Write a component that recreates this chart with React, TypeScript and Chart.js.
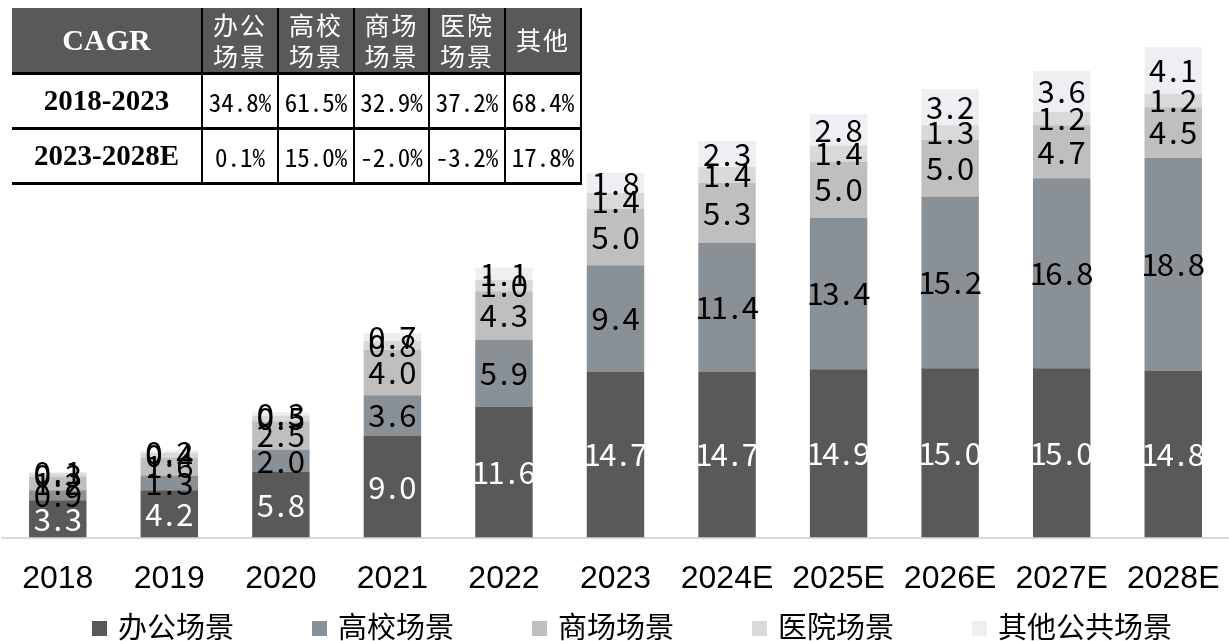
import React, { useEffect, useRef } from 'react';
import { Chart, registerables } from 'chart.js';

Chart.register(...registerables);

// ---- Data ----
const years = ['2018', '2019', '2020', '2021', '2022', '2023', '2024E', '2025E', '2026E', '2027E', '2028E'];
const officeValues = [3.3, 4.2, 5.8, 9.0, 11.6, 14.7, 14.7, 14.9, 15.0, 15.0, 14.8];
const campusValues = [0.9, 1.3, 2.0, 3.6, 5.9, 9.4, 11.4, 13.4, 15.2, 16.8, 18.8];
const mallValues = [1.2, 1.6, 2.5, 4.0, 4.3, 5.0, 5.3, 5.0, 5.0, 4.7, 4.5];
const hospitalValues = [0.3, 0.4, 0.5, 0.8, 1.0, 1.4, 1.4, 1.4, 1.3, 1.2, 1.2];
const otherValues = [0.1, 0.2, 0.3, 0.7, 1.1, 1.8, 2.3, 2.8, 3.2, 3.6, 4.1];
const seriesNames = ['办公场景', '高校场景', '商场场景', '医院场景', '其他公共场景'];
const seriesColors = ['#595959', '#899096', '#bfbfbf', '#d9d9d9', '#eeeff2'];

const cagrTitle = 'CAGR';
const cagrColumns = [['办公', '场景'], ['高校', '场景'], ['商场', '场景'], ['医院', '场景'], ['其他']];
const cagrPeriods = ['2018-2023', '2023-2028E'];
const cagr2018to2023 = ['34.8%', '61.5%', '32.9%', '37.2%', '68.4%'];
const cagr2023to2028 = ['0.1%', '15.0%', '-2.0%', '-3.2%', '17.8%'];

const LABEL_FONT = '"Noto Sans CJK SC", "Noto Sans", sans-serif';

function drawCellText(ctx: CanvasRenderingContext2D, text: string, cx: number, cy: number, cell: number) {
  const chars = Array.from(text);
  let x = cx - (chars.length * cell) / 2 + cell / 2;
  for (const ch of chars) {
    ctx.fillText(ch, x, cy);
    x += cell;
  }
}

const valueLabelPlugin = {
  id: 'valueLabels',
  afterDatasetsDraw(chart: any) {
    const ctx = chart.ctx as CanvasRenderingContext2D;
    ctx.save();
    ctx.font = `31px ${LABEL_FONT}`;
    ctx.textAlign = 'center';
    ctx.textBaseline = 'middle';
    chart.data.datasets.forEach((ds: any, i: number) => {
      const meta = chart.getDatasetMeta(i);
      meta.data.forEach((el: any, j: number) => {
        const v = ds.data[j] as number;
        const cy = (el.y + el.base) / 2;
        ctx.fillStyle = i === 0 ? '#ffffff' : '#000000';
        drawCellText(ctx, v.toFixed(1), el.x, cy, 15.5);
      });
    });
    ctx.restore();
  },
};

const legendPlugin = {
  id: 'customLegend',
  afterDraw(chart: any) {
    const ctx = chart.ctx as CanvasRenderingContext2D;
    ctx.save();
    ctx.font = `29px ${LABEL_FONT}`;
    ctx.textAlign = 'left';
    ctx.textBaseline = 'middle';
    let x = 92;
    const y = chart.height - 14;
    chart.data.datasets.forEach((ds: any) => {
      ctx.fillStyle = ds.backgroundColor;
      ctx.fillRect(x, y - 6, 15, 15);
      ctx.fillStyle = '#000';
      ctx.fillText(ds.label, x + 26, y);
      const w = ctx.measureText(ds.label).width;
      x += 26 + w + 78;
    });
    ctx.restore();
  },
};

export default function App() {
  const ref = useRef<HTMLCanvasElement>(null);

  useEffect(() => {
    const allValues = [officeValues, campusValues, mallValues, hospitalValues, otherValues];
    const chart = new Chart(ref.current as HTMLCanvasElement, {
      type: 'bar',
      data: {
        labels: years,
        datasets: allValues.map((vals, i) => ({
          label: seriesNames[i],
          data: vals,
          backgroundColor: seriesColors[i],
          borderWidth: 0,
          barPercentage: 0.515,
          categoryPercentage: 1,
        })),
      },
      options: {
        responsive: false,
        animation: false,
        layout: { padding: { left: 2, right: -11, top: 1, bottom: 43 } },
        plugins: {
          legend: { display: false },
          tooltip: { enabled: false },
        },
        scales: {
          x: {
            stacked: true,
            grid: { display: false, drawTicks: true, tickLength: 22 },
            border: { display: true, color: '#d9d9d9', width: 2 },
            ticks: {
              padding: 0,
              color: '#000',
              autoSkip: false,
              maxRotation: 0,
              font: { family: '"Liberation Sans", Arial, sans-serif', size: 32 },
            },
          },
          y: { stacked: true, display: false, min: 0, max: 47.5 },
        },
      },
      plugins: [valueLabelPlugin, legendPlugin],
    });
    return () => chart.destroy();
  }, []);

  const thBase: React.CSSProperties = {
    background: '#595959',
    color: '#fff',
    padding: 0,
    textAlign: 'center',
    borderLeft: '2px solid #000',
    fontWeight: 'normal',
  };
  const tdBase: React.CSSProperties = {
    padding: 0,
    textAlign: 'center',
    borderLeft: '2px solid #000',
    fontFamily: '"Noto Sans Mono CJK SC", "DejaVu Sans Mono", monospace',
    fontSize: 25,
    color: '#000',
  };
  const periodStyle: React.CSSProperties = {
    padding: 0,
    textAlign: 'center',
    fontFamily: '"Liberation Serif", "Times New Roman", serif',
    fontWeight: 'bold',
    fontSize: 29,
    color: '#000',
  };
  const rows = [cagr2018to2023, cagr2023to2028];

  return (
    <div style={{ position: 'fixed', left: 0, top: 0, width: 1229, height: 641, background: '#fff' }}>
      <canvas ref={ref} width={1229} height={641} style={{ display: 'block', width: 1229, height: 641 }} />
      <table
        style={{
          position: 'absolute',
          left: 12,
          top: 8,
          width: 569,
          borderCollapse: 'collapse',
          tableLayout: 'fixed',
          background: '#fff',
        }}
      >
        <colgroup>
          <col style={{ width: 190 }} />
          <col style={{ width: 76 }} />
          <col style={{ width: 76 }} />
          <col style={{ width: 75 }} />
          <col style={{ width: 76 }} />
          <col style={{ width: 76 }} />
        </colgroup>
        <tbody>
          <tr style={{ height: 65, borderBottom: '3px solid #000' }}>
            <th
              style={{
                ...thBase,
                borderLeft: 'none',
                fontFamily: '"Liberation Serif", "Times New Roman", serif',
                fontWeight: 'bold',
                fontSize: 30,
              }}
            >
              {cagrTitle}
            </th>
            {cagrColumns.map((lines, i) => (
              <th
                key={i}
                style={{
                  ...thBase,
                  borderRight: i === cagrColumns.length - 1 ? '2px solid #000' : undefined,
                  fontFamily: LABEL_FONT,
                  fontSize: 25,
                  lineHeight: '31px',
                  letterSpacing: 2,
                }}
              >
                {lines.map((l, k) => (
                  <div key={k}>{l}</div>
                ))}
              </th>
            ))}
          </tr>
          {rows.map((row, r) => (
            <tr key={r} style={{ height: 55, borderBottom: '3px solid #000' }}>
              <td style={periodStyle}>{cagrPeriods[r]}</td>
              {row.map((v, i) => (
                <td key={i} style={{ ...tdBase, borderRight: i === row.length - 1 ? '2px solid #000' : undefined }}>
                  {v}
                </td>
              ))}
            </tr>
          ))}
        </tbody>
      </table>
    </div>
  );
}
